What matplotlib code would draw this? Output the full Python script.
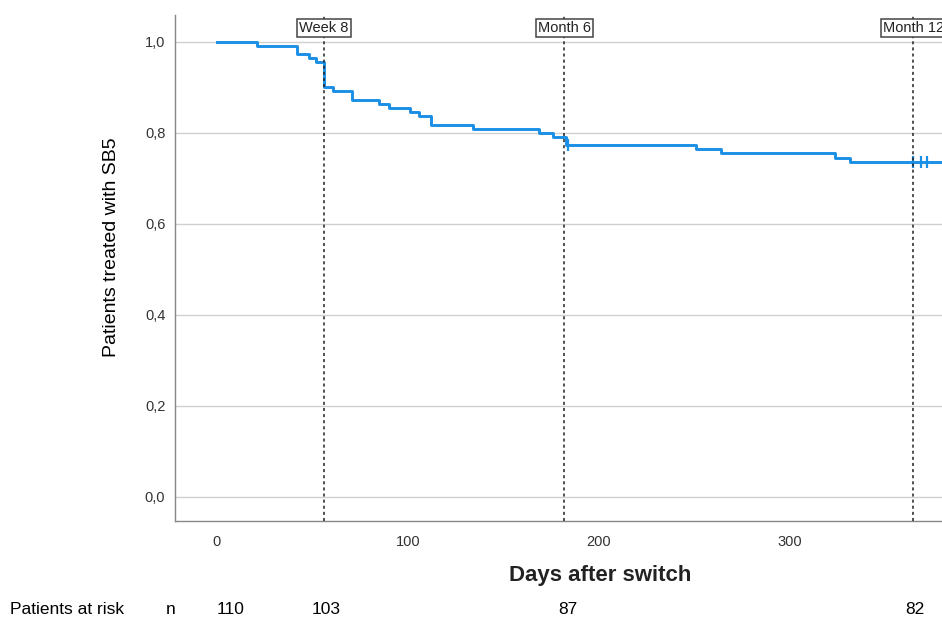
import matplotlib
matplotlib.use("Agg")
import matplotlib.pyplot as plt
import matplotlib.transforms as mtransforms
from matplotlib.ticker import FuncFormatter

# Kaplan-Meier curve
days = [0, 21, 42, 48, 52, 56, 61, 71, 85, 90, 101, 106, 112, 134, 169, 176, 183, 251, 264, 324, 332, 385]
survival = [1.0, 0.991, 0.973, 0.964, 0.955, 0.900, 0.891, 0.873, 0.864, 0.855, 0.845,
            0.836, 0.818, 0.809, 0.800, 0.791, 0.773, 0.764, 0.755, 0.745, 0.736, 0.736]
censor_days = [184, 365, 369, 372]
censor_surv = [0.773, 0.736, 0.736, 0.736]

milestone_days = [56, 182, 365]
milestone_labels = ["Week 8", "Month 6", "Month 12"]

risk_days = [7, 57, 184, 366]
risk_counts = ["110", "103", "87", "82"]

xticks = [0, 100, 200, 300]
yticks = [0.0, 0.2, 0.4, 0.6, 0.8, 1.0]

plt.rcParams["font.family"] = ["Liberation Sans", "DejaVu Sans"]

fig = plt.figure(figsize=(9.42, 6.19), dpi=100)
ax = fig.add_axes([175 / 942, 1 - 521 / 619, 1 - 175 / 942, (521 - 15) / 619])

ax.set_xlim(-22, 380)
ax.set_ylim(-0.053, 1.059)

for y in yticks:
    ax.axhline(y, color="#d0d0d0", linewidth=1.0, zorder=0)

ax.step(days, survival, where="post", color="#1a8fe6", linewidth=2.1, zorder=3)
ax.plot(censor_days, censor_surv, linestyle="none", marker="|", markersize=8,
        markeredgewidth=1.6, color="#1a8fe6", zorder=3)

for d, lab in zip(milestone_days, milestone_labels):
    ax.axvline(d, color="#222222", linewidth=1.1, linestyle=(0, (2, 2)), zorder=4)
    ax.text(d, 1.031, lab, ha="center", va="center", fontsize=10.5, color="#222222",
            clip_on=True, zorder=5,
            bbox=dict(boxstyle="square,pad=0.15", facecolor="white",
                      edgecolor="#444444", linewidth=1.1))

ax.set_xticks(xticks)
ax.set_yticks(yticks)
ax.yaxis.set_major_formatter(FuncFormatter(lambda v, p: f"{v:.1f}".replace(".", ",")))
ax.tick_params(axis="both", length=0, labelsize=10.5, colors="#333333")
ax.tick_params(axis="x", pad=10)
ax.tick_params(axis="y", pad=7)

for side in ["top", "right"]:
    ax.spines[side].set_visible(False)
for side in ["left", "bottom"]:
    ax.spines[side].set_color("#888888")
    ax.spines[side].set_linewidth(1.0)

fig.text(112 / 942, 1 - 247 / 619, "Patients treated with SB5", rotation=90,
         ha="center", va="center", fontsize=14, color="black")
fig.text(600 / 942, 1 - 576 / 619, "Days after switch", ha="center", va="center",
         fontsize=16, fontweight="bold", color="#222222")

# patients at risk row
trans = mtransforms.blended_transform_factory(ax.transData, fig.transFigure)
risk_y = 1 - 610 / 619
fig.text(10 / 942, risk_y, "Patients at risk", ha="left", va="center", fontsize=12.5)
fig.text(171 / 942, risk_y, "n", ha="center", va="center", fontsize=12.5)
for d, c in zip(risk_days, risk_counts):
    ax.text(d, risk_y, c, transform=trans, ha="center", va="center", fontsize=12.5,
            clip_on=False)

fig.savefig("out.png", dpi=100)
